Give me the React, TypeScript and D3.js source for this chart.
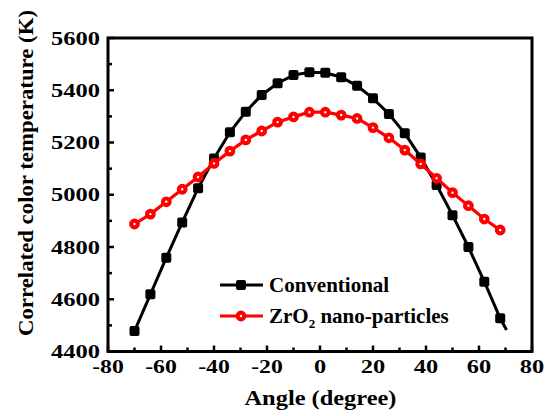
import React from "react";
import * as d3 from "d3";

const angles = [-70, -64, -58, -52, -46, -40, -34, -28, -22, -16, -10, -4, 2, 8, 14, 20, 26, 32, 38, 44, 50, 56, 62, 68];
const conventional = [4478, 4619, 4759, 4894, 5025, 5139, 5239, 5318, 5382, 5427, 5458, 5469, 5467, 5450, 5417, 5369, 5309, 5235, 5143, 5037, 4922, 4800, 4667, 4527];
const conventionalTail = { angle: 70.4, value: 4482 };
const zro2 = [4888, 4926, 4973, 5021, 5068, 5120, 5167, 5210, 5244, 5278, 5298, 5316, 5316, 5305, 5292, 5257, 5218, 5171, 5118, 5063, 5008, 4958, 4907, 4865];
const xTicks = [-80, -60, -40, -20, 0, 20, 40, 60, 80];
const xMinor = [-70, -50, -30, -10, 10, 30, 50, 70];
const yTicks = [4400, 4600, 4800, 5000, 5200, 5400, 5600];
const yMinor = [4500, 4700, 4900, 5100, 5300, 5500];
const seriesNames = ["Conventional", "ZrO", "2", " nano-particles"];

const FONT = "'Liberation Serif', 'Times New Roman', serif";

export default function App() {
  const x = d3.scaleLinear().domain([-80, 80]).range([108, 532]);
  const y = d3.scaleLinear().domain([4400, 5600]).range([351.5, 38]);
  const line = d3.line<[number, number]>().x((d) => x(d[0])).y((d) => y(d[1]));

  const convPts: [number, number][] = angles.map((a, i) => [a, conventional[i]]);
  const convLine: [number, number][] = [...convPts, [conventionalTail.angle, conventionalTail.value]];
  const zrPts: [number, number][] = angles.map((a, i) => [a, zro2[i]]);

  const [x0, x1] = x.range();
  const [y0, y1] = y.range();

  return (
    <svg width={551} height={416} style={{ position: "absolute", left: 0, top: 0, background: "#fff" }}>
      {/* ticks */}
      {yTicks.map((t) => (
        <line key={"yt" + t} x1={x0} x2={x0 + 6} y1={y(t)} y2={y(t)} stroke="#000" strokeWidth={2.5} />
      ))}
      {yMinor.map((t) => (
        <line key={"ym" + t} x1={x0} x2={x0 + 4} y1={y(t)} y2={y(t)} stroke="#000" strokeWidth={2.5} />
      ))}
      {xTicks.map((t) => (
        <line key={"xt" + t} x1={x(t)} x2={x(t)} y1={y0} y2={y0 - 6} stroke="#000" strokeWidth={2.5} />
      ))}
      {xMinor.map((t) => (
        <line key={"xm" + t} x1={x(t)} x2={x(t)} y1={y0} y2={y0 - 4} stroke="#000" strokeWidth={2.5} />
      ))}
      {/* frame */}
      <rect x={x0} y={y1} width={x1 - x0} height={y0 - y1} fill="none" stroke="#000" strokeWidth={3} />

      {/* tick labels */}
      {yTicks.map((t) => (
        <text key={"yl" + t} x={100} y={y(t) + 6.5} textAnchor="end" fontFamily={FONT} fontWeight="bold" fontSize={19}
          textLength={49} lengthAdjust="spacingAndGlyphs">{t}</text>
      ))}
      {xTicks.map((t) => {
        const s = String(t);
        const w = s.length * 12.2 + (t < 0 ? -5 : 0);
        return (
          <text key={"xl" + t} x={x(t)} y={372.5} textAnchor="middle" fontFamily={FONT} fontWeight="bold" fontSize={19}
            textLength={w} lengthAdjust="spacingAndGlyphs">{s}</text>
        );
      })}

      {/* axis titles */}
      <text x={320.5} y={405} textAnchor="middle" fontFamily={FONT} fontWeight="bold" fontSize={20}
        textLength={152} lengthAdjust="spacingAndGlyphs">Angle (degree)</text>
      <text transform="translate(33,173) rotate(-90)" textAnchor="middle" fontFamily={FONT} fontWeight="bold" fontSize={21}
        textLength={326} lengthAdjust="spacingAndGlyphs">Correlated color temperature (K)</text>

      {/* series */}
      <path d={line(convLine) || ""} fill="none" stroke="#000" strokeWidth={3} />
      {convPts.map((d, i) => (
        <rect key={"cp" + i} x={x(d[0]) - 5} y={y(d[1]) - 5} width={10} height={10} rx={2} fill="#000" />
      ))}
      <path d={line(zrPts) || ""} fill="none" stroke="#ff0000" strokeWidth={3.2} />
      {zrPts.map((d, i) => (
        <circle key={"zp" + i} cx={x(d[0])} cy={y(d[1])} r={3.3} fill="#fff" stroke="#ff0000" strokeWidth={4.2} />
      ))}

      {/* legend */}
      <line x1={220} x2={263} y1={285} y2={285} stroke="#000" strokeWidth={3} />
      <rect x={236} y={280} width={10} height={10} rx={2} fill="#000" />
      <text x={269} y={292} fontFamily={FONT} fontWeight="bold" fontSize={21}>{seriesNames[0]}</text>

      <line x1={220} x2={263} y1={316} y2={316} stroke="#ff0000" strokeWidth={3.2} />
      <circle cx={241} cy={316} r={3.3} fill="#fff" stroke="#ff0000" strokeWidth={4.2} />
      <text x={269} y={322.5} fontFamily={FONT} fontWeight="bold" fontSize={21}>
        {seriesNames[1]}
        <tspan fontSize={13} dy={5}>{seriesNames[2]}</tspan>
        <tspan dy={-5}>{seriesNames[3]}</tspan>
      </text>
    </svg>
  );
}
